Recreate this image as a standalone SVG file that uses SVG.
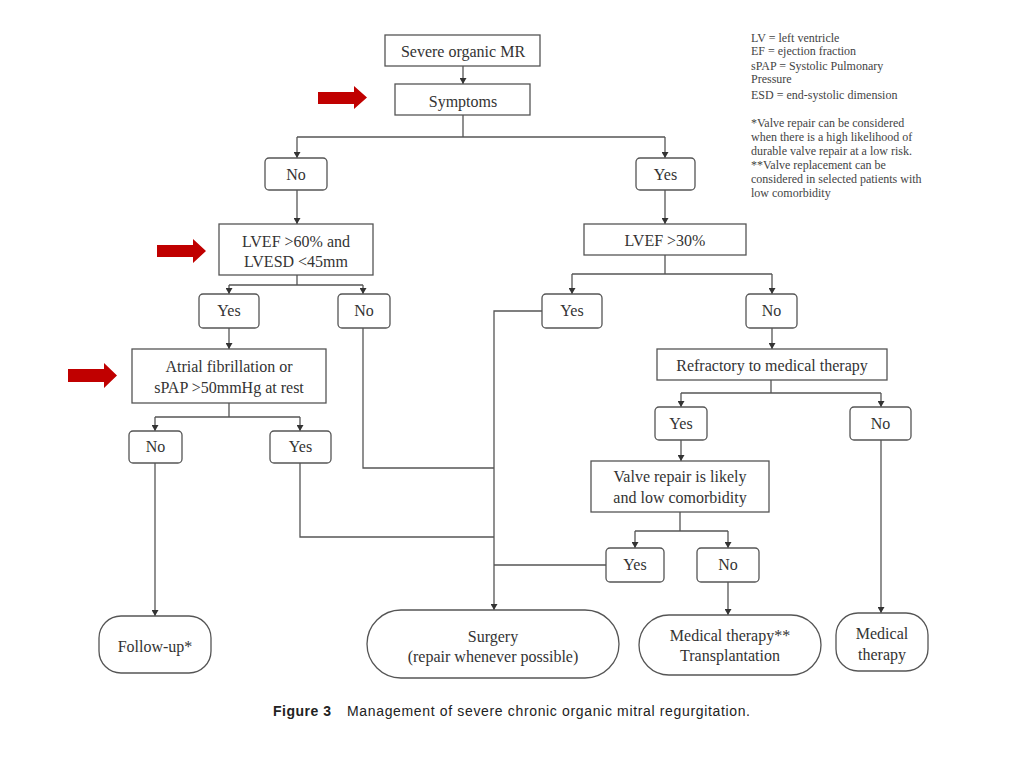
<svg xmlns="http://www.w3.org/2000/svg" width="1024" height="768" viewBox="0 0 1024 768">
<defs>
<marker id="ah" markerUnits="userSpaceOnUse" markerWidth="7" markerHeight="7" refX="6" refY="3.5" orient="auto">
<path d="M0,0 L6,3.5 L0,7 z" fill="#333"/>
</marker>
<style>
.box{fill:#fff;stroke:#555;stroke-width:1.3}
.rbox{fill:#fff;stroke:#555;stroke-width:1.3}
.t{font-family:"Liberation Serif","Times New Roman",serif;font-size:16px;fill:#333;text-anchor:middle}
.leg{font-family:"Liberation Serif","Times New Roman",serif;font-size:12px;fill:#444}
.c{fill:none;stroke:#555;stroke-width:1.3}
.a{marker-end:url(#ah)}
.red{fill:#c00000}
.cap{font-family:"Liberation Sans",Arial,sans-serif;font-size:14px;fill:#222}
</style>
</defs>
<rect width="1024" height="768" fill="#fff"/>

<g id="connectors">
<path class="c a" d="M463,66 V84"/>
<path class="c" d="M463,115 V137 M297,137 H665"/>
<path class="c a" d="M297,137 V158"/>
<path class="c a" d="M665,137 V158"/>
<path class="c a" d="M297,190 V224"/>
<path class="c a" d="M665,190 V224"/>
<path class="c" d="M297,275 V285 M229,285 H363"/>
<path class="c a" d="M229,285 V294"/>
<path class="c a" d="M363,285 V294"/>
<path class="c a" d="M229,328 V349"/>
<path class="c" d="M229,403 V417 M155,417 H300"/>
<path class="c a" d="M155,417 V431"/>
<path class="c a" d="M300,417 V431"/>
<path class="c a" d="M155,463 V616"/>
<path class="c" d="M300,463 V537 H494"/>
<path class="c" d="M363,328 V468 H494"/>
<path class="c" d="M665,255 V274 M572,274 H772"/>
<path class="c a" d="M572,274 V294"/>
<path class="c a" d="M772,274 V294"/>
<path class="c a" d="M542,311 H494 V610"/>
<path class="c a" d="M772,328 V349"/>
<path class="c" d="M771,380 V393 M681,393 H881"/>
<path class="c a" d="M681,393 V407"/>
<path class="c a" d="M881,393 V407"/>
<path class="c a" d="M681,440 V461"/>
<path class="c" d="M680,512 V531 M635,531 H728"/>
<path class="c a" d="M635,531 V548"/>
<path class="c a" d="M728,531 V548"/>
<path class="c" d="M606,565 H494"/>
<path class="c a" d="M728,582 V615"/>
<path class="c a" d="M881,440 V613"/>
</g>

<g id="arrows-red">
<path class="red" d="M318,92 H354 V86 L367,97.5 L354,109 V104 H318 z"/>
<path class="red" d="M157,245 H193 V239 L206,251 L193,263 V257 H157 z"/>
<path class="red" d="M68,369 H104 V363 L117,375.5 L104,388 V382 H68 z"/>
</g>

<g id="n-severe">
<rect class="box" x="385" y="35" width="155" height="31"/>
<text class="t" x="463" y="57">Severe organic MR</text>
</g>
<g id="n-symptoms">
<rect class="box" x="395" y="84" width="135" height="31"/>
<text class="t" x="463" y="107">Symptoms</text>
</g>
<g id="n-sym-no">
<rect class="rbox" x="265" y="158" width="62" height="32" rx="4"/>
<text class="t" x="296" y="180">No</text>
</g>
<g id="n-sym-yes">
<rect class="rbox" x="636" y="158" width="59" height="32" rx="4"/>
<text class="t" x="665.5" y="180">Yes</text>
</g>
<g id="n-lvef60">
<rect class="box" x="219" y="224" width="154" height="51"/>
<text class="t" x="296" y="247">LVEF &gt;60% and</text>
<text class="t" x="296" y="267">LVESD &lt;45mm</text>
</g>
<g id="n-lvef30">
<rect class="box" x="584" y="224" width="162" height="31"/>
<text class="t" x="665" y="246">LVEF &gt;30%</text>
</g>
<g id="n-l60-yes">
<rect class="rbox" x="199" y="294" width="60" height="34" rx="4"/>
<text class="t" x="229" y="316">Yes</text>
</g>
<g id="n-l60-no">
<rect class="rbox" x="338" y="294" width="52" height="34" rx="4"/>
<text class="t" x="364" y="316">No</text>
</g>
<g id="n-l30-yes">
<rect class="rbox" x="542" y="294" width="60" height="34" rx="4"/>
<text class="t" x="572" y="316">Yes</text>
</g>
<g id="n-l30-no">
<rect class="rbox" x="746" y="294" width="51" height="34" rx="4"/>
<text class="t" x="771.5" y="316">No</text>
</g>
<g id="n-atrial">
<rect class="box" x="132" y="349" width="194" height="54"/>
<text class="t" x="229" y="372">Atrial fibrillation or</text>
<text class="t" x="229" y="393">sPAP &gt;50mmHg at rest</text>
</g>
<g id="n-refractory">
<rect class="box" x="657" y="349" width="230" height="31"/>
<text class="t" x="772" y="371">Refractory to medical therapy</text>
</g>
<g id="n-af-no">
<rect class="rbox" x="129" y="431" width="53" height="32" rx="4"/>
<text class="t" x="155.5" y="452">No</text>
</g>
<g id="n-af-yes">
<rect class="rbox" x="270" y="431" width="61" height="32" rx="4"/>
<text class="t" x="300.5" y="452">Yes</text>
</g>
<g id="n-ref-yes">
<rect class="rbox" x="655" y="407" width="52" height="33" rx="4"/>
<text class="t" x="681" y="429">Yes</text>
</g>
<g id="n-ref-no">
<rect class="rbox" x="850" y="407" width="61" height="33" rx="4"/>
<text class="t" x="880.5" y="429">No</text>
</g>
<g id="n-valve">
<rect class="box" x="591" y="461" width="178" height="51"/>
<text class="t" x="680" y="482">Valve repair is likely</text>
<text class="t" x="680" y="503">and low comorbidity</text>
</g>
<g id="n-v-yes">
<rect class="rbox" x="606" y="548" width="58" height="34" rx="4"/>
<text class="t" x="635" y="570">Yes</text>
</g>
<g id="n-v-no">
<rect class="rbox" x="697" y="548" width="62" height="34" rx="4"/>
<text class="t" x="728" y="570">No</text>
</g>
<g id="n-followup">
<rect class="rbox" x="99" y="616" width="112" height="57" rx="22"/>
<text class="t" x="155" y="652">Follow-up*</text>
</g>
<g id="n-surgery">
<rect class="rbox" x="367" y="610" width="252" height="68" rx="34"/>
<text class="t" x="493" y="642">Surgery</text>
<text class="t" x="493" y="662">(repair whenever possible)</text>
</g>
<g id="n-medtx-transplant">
<rect class="rbox" x="639" y="615" width="182" height="60" rx="30"/>
<text class="t" x="730" y="641">Medical therapy**</text>
<text class="t" x="730" y="661">Transplantation</text>
</g>
<g id="n-medtx">
<rect class="rbox" x="836" y="613" width="92" height="58" rx="22"/>
<text class="t" x="882" y="639">Medical</text>
<text class="t" x="882" y="660">therapy</text>
</g>

<g id="legend">
<text class="leg" x="751" y="42">LV = left ventricle</text>
<text class="leg" x="751" y="55">EF = ejection fraction</text>
<text class="leg" x="751" y="70">sPAP = Systolic Pulmonary</text>
<text class="leg" x="751" y="83">Pressure</text>
<text class="leg" x="751" y="99">ESD = end-systolic dimension</text>
<text class="leg" x="751" y="127">*Valve repair can be considered</text>
<text class="leg" x="751" y="141">when there is a high likelihood of</text>
<text class="leg" x="751" y="155">durable valve repair at a low risk.</text>
<text class="leg" x="751" y="169">**Valve replacement can be</text>
<text class="leg" x="751" y="183">considered in selected patients with</text>
<text class="leg" x="751" y="197">low comorbidity</text>
</g>

<g id="caption">
<text class="cap" x="273" y="716"><tspan font-weight="bold" textLength="58" lengthAdjust="spacing">Figure 3</tspan><tspan x="347" textLength="403" lengthAdjust="spacing">Management of severe chronic organic mitral regurgitation.</tspan></text>
</g>
</svg>
